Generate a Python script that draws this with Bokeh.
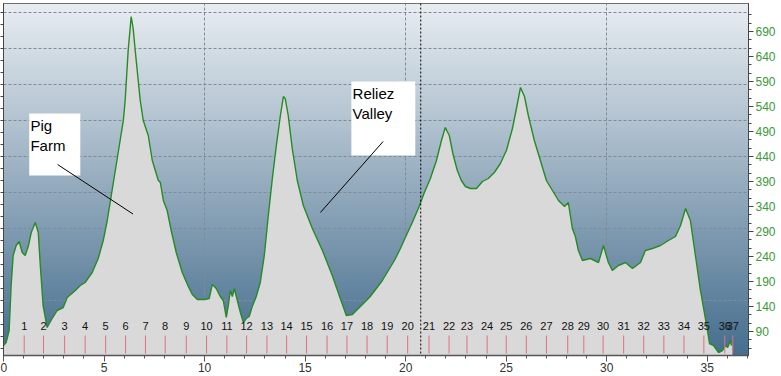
import numpy as np
from bokeh.plotting import figure
from bokeh.models import (Range1d, LinearAxis, FixedTicker, SingleIntervalTicker, Span, Label,
                          CustomJSTickFormatter)
from bokeh.core.properties import value
from bokeh.embed import file_html
from bokeh.resources import INLINE

# ---------------- data ----------------
distance_mi = [0.00, 0.13, 0.28, 0.38, 0.48, 0.63, 0.78, 0.93, 1.08, 1.23, 1.38, 1.58, 1.73, 1.83, 1.97,
               2.17, 2.42, 2.67, 2.97, 3.17, 3.57, 3.82, 4.06, 4.41, 4.71, 4.96, 5.16, 5.36, 5.56, 5.76,
               5.96, 6.05, 6.20, 6.35, 6.45, 6.55, 6.70, 6.80, 6.95, 7.20, 7.40, 7.55, 7.70, 7.80, 7.95,
               8.14, 8.34, 8.59, 8.89, 9.19, 9.39, 9.64, 9.99, 10.23, 10.38, 10.58, 10.78, 10.93, 11.08,
               11.18, 11.28, 11.38, 11.48, 11.63, 11.78, 11.93, 12.07, 12.22, 12.37, 12.57, 12.77, 12.97,
               13.17, 13.37, 13.57, 13.77, 13.92, 14.01, 14.16, 14.36, 14.61, 14.91, 15.36, 15.86, 16.35,
               16.75, 17.05, 17.35, 17.65, 17.95, 18.24, 18.54, 18.84, 19.14, 19.44, 19.74, 20.03, 20.33,
               20.63, 20.93, 21.23, 21.53, 21.78, 21.97, 22.17, 22.37, 22.57, 22.77, 22.97, 23.22, 23.52,
               23.82, 24.11, 24.41, 24.71, 25.01, 25.31, 25.51, 25.71, 25.91, 26.10, 26.40, 26.70, 27.00,
               27.30, 27.60, 27.90, 28.09, 28.29, 28.44, 28.59, 28.79, 29.19, 29.59, 29.84, 30.08, 30.28,
               30.58, 30.93, 31.28, 31.68, 31.92, 32.27, 32.67, 33.07, 33.42, 33.67, 33.92, 34.16, 34.41,
               34.66, 34.81, 35.01, 35.11, 35.31, 35.56, 35.76, 35.91, 36.01, 36.16, 36.20, 36.25]
elevation = [62, 68, 92, 182, 242, 262, 270, 248, 242, 260, 288, 308, 288, 222, 142,
             98, 116, 132, 138, 158, 172, 182, 188, 208, 236, 272, 312, 362, 412, 462,
             512, 552, 652, 720, 696, 652, 592, 552, 512, 482, 432, 412, 392, 388, 352,
             332, 292, 248, 208, 180, 164, 154, 154, 156, 184, 176, 160, 152, 118,
             142, 172, 160, 176, 152, 128, 108, 116, 120, 140, 160, 188, 242,
             322, 396, 462, 522, 560, 556, 522, 456, 392, 342, 296, 252, 202,
             156, 122, 124, 136, 148, 160, 176, 192, 212, 232, 256, 282, 308,
             336, 368, 396, 432, 472, 498, 482, 442, 412, 392, 380, 376, 376,
             390, 396, 408, 426, 452, 496, 536, 578, 560, 522, 472, 432, 392,
             372, 352, 340, 348, 296, 280, 252, 232, 236, 228, 262, 228, 212,
             222, 228, 216, 228, 252, 256, 262, 272, 280, 302, 336, 312, 242,
             172, 138, 92, 66, 62, 48, 52, 62, 58, 72, 62, 66]
assert len(distance_mi) == len(elevation)

marker_mi = [1.03, 1.99, 3.04, 4.06, 5.08, 6.07, 7.06, 8.04, 9.09, 10.10, 11.11, 12.09, 13.10,
             14.08, 15.07, 16.09, 17.08, 18.08, 19.08, 20.10, 21.16, 22.16, 23.05, 24.05, 25.00,
             26.00, 27.00, 28.06, 28.86, 29.82, 30.84, 31.84, 32.84, 33.84, 34.83, 35.87, 36.27]
marker_labels = [str(i) for i in range(1, 38)]

right_ticks = [90, 140, 190, 240, 290, 340, 390, 440, 490, 540, 590, 640, 690]
grid_ticks = [152, 224, 296, 368, 440, 512, 584, 656, 728]
x_grid_ticks = [10, 20, 30]
lap_line_mi = 20.75

note_text = ["Pig\nFarm", "Reliez\nValley"]
note_left = [1.28, 17.30]
note_right = [3.82, 20.48]
note_top = [526, 590]
note_bottom = [402, 442]
pointer_x0 = [2.69, 18.88]
pointer_y0 = [424, 470]
pointer_x1 = [6.44, 15.76]
pointer_y1 = [325, 328]

# ---------------- styles ----------------
X_END = 37.05
Y_START, Y_END = 42, 746
GREEN = "#3a993a"
FONT = "Liberation Sans"

p = figure(width=781, height=376, x_range=Range1d(0, X_END), y_range=Range1d(Y_START, Y_END),
           output_backend="svg", toolbar_location=None,
           min_border_left=0, min_border_right=33, min_border_top=3, min_border_bottom=21)
p.background_fill_color = "#a0b4c4"
p.border_fill_color = "white"
p.outline_line_color = "#444444"

# background gradient
n = 256
t = np.linspace(0.0, 1.0, n)[:, None]
bot = np.array([70, 110, 142], dtype=float)
top = np.array([233, 238, 242], dtype=float)
rgb = bot + (top - bot) * t
img = np.zeros((n, 1, 4), dtype=np.uint8)
img[:, 0, :3] = rgb.astype(np.uint8)
img[:, 0, 3] = 255
p.image_rgba(image=[img.view(np.uint32).reshape(n, 1)], x=0, y=Y_START, dw=X_END,
             dh=Y_END - Y_START, level="image")

# grids
p.ygrid.ticker = FixedTicker(ticks=grid_ticks)
p.xgrid.ticker = FixedTicker(ticks=x_grid_ticks)
for g in (p.xgrid, p.ygrid):
    g.grid_line_color = "#7f8c96"
    g.grid_line_dash = "3 2"
    g.grid_line_width = 1

# left axis (tick marks only)
left_minor = [tk + d for tk in grid_ticks + [80] for d in (24, 48)] + [56]
ly = p.yaxis[0]
ly.ticker = FixedTicker(ticks=grid_ticks + [80], minor_ticks=left_minor)
ly.formatter = CustomJSTickFormatter(code="return ''")
ly.major_label_standoff = 0
ly.major_tick_in = 0
ly.major_tick_out = 3
ly.minor_tick_in = 0
ly.minor_tick_out = 3
ly.axis_line_color = "#444444"
ly.major_tick_line_color = "#444444"
ly.minor_tick_line_color = "#444444"

# right axis
right_minor = [tk + d for tk in [40] + right_ticks for d in (50 / 3, 100 / 3)]
ry = LinearAxis(ticker=FixedTicker(ticks=right_ticks, minor_ticks=right_minor),
                major_label_text_color=GREEN, major_label_text_font=FONT,
                major_label_text_font_size="12px", major_label_standoff=2,
                major_tick_in=0, major_tick_out=5, minor_tick_in=0, minor_tick_out=3,
                axis_line_color="#444444", major_tick_line_color="#444444",
                minor_tick_line_color="#444444")
p.add_layout(ry, "right")

# x axis
xa = p.xaxis[0]
xa.ticker = SingleIntervalTicker(interval=5, num_minor_ticks=5)
xa.major_label_text_font = FONT
xa.major_label_text_font_size = "12px"
xa.major_label_text_color = "#333333"
xa.major_label_standoff = 1
xa.major_tick_in = 0
xa.major_tick_out = 6
xa.minor_tick_in = 0
xa.minor_tick_out = 3
xa.axis_line_color = "#555555"
xa.axis_line_width = 1.5
xa.major_tick_line_color = "#555555"
xa.minor_tick_line_color = "#555555"

# profile
p.varea(x=distance_mi, y1=Y_START, y2=elevation, fill_color="#d9d9d9")
p.line(distance_mi, elevation, line_color="#268a26", line_width=1.4)

# mile markers
MARK_Y0, MARK_Y1, MARK_LABEL_Y = 46, 82, 101
p.segment(x0=marker_mi, y0=MARK_Y0, x1=marker_mi, y1=MARK_Y1, line_color="#e07080", line_width=1)
p.text(x=marker_mi, y=MARK_LABEL_Y, text=marker_labels, text_font=value(FONT),
       text_font_size="11px", text_align="center", text_baseline="middle", text_color="#111111")

# annotation boxes
p.quad(left=note_left, right=note_right, top=note_top, bottom=note_bottom,
       fill_color="white", line_color=None)
p.text(x=[v + 0.06 for v in note_left], y=[v - 7 for v in note_top], text=note_text,
       text_font=value(FONT), text_font_size="15px", text_align="left", text_baseline="top",
       text_line_height=1.2, text_color="black")
p.segment(x0=pointer_x0, y0=pointer_y0, x1=pointer_x1, y1=pointer_y1, line_color="black", line_width=1)

# lap line
p.add_layout(Span(location=lap_line_mi, dimension="height", line_color="black",
                  line_dash="2 2", line_width=1))

# axis title at bottom right (cut by the edge as in the reference)
p.add_layout(Label(x=37.9, y=46, text="Distance", text_baseline="top", text_font=FONT,
                   text_font_size="13px", text_color="#333333"))
p.add_layout(Label(x=37.9, y=17, text="[miles]", text_baseline="top", text_font=FONT,
                   text_font_size="10px", text_color="#333333"))

open("out.html", "w").write(file_html(p, INLINE))
